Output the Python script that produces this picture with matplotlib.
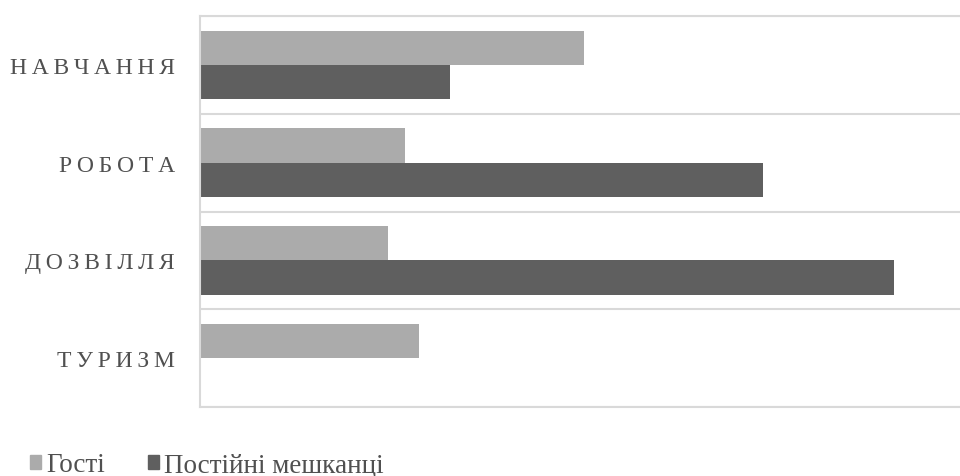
import matplotlib
matplotlib.use("Agg")
import matplotlib.pyplot as plt
from matplotlib.patches import Patch
import numpy as np

# data (no axis scale shown, so values are relative, 0-100)
categories = ["НАВЧАННЯ", "РОБОТА", "ДОЗВІЛЛЯ", "ТУРИЗМ"]
guests = [50.5, 27.0, 24.7, 28.8]
residents = [32.9, 74.1, 91.3, 0.0]
series_names = ["Гості", "Постійні мешканці"]

light = "#ababab"
dark = "#5f5f5f"
grid_c = "#d9d9d9"
text_c = "#505050"

plt.rcParams["font.family"] = ["Liberation Serif", "DejaVu Serif"]

fig = plt.figure(figsize=(9.6, 4.77), dpi=100)
ax = fig.add_axes([200 / 960, 1 - 408 / 477, 1.0, (408 - 17) / 477])

y = np.arange(len(categories))
h = 0.35
ax.barh(y - h / 2, guests, height=h, color=light)
ax.barh(y + h / 2, residents, height=h, color=dark)

ax.set_xlim(0, 100 * 960 / 760)
ax.set_ylim(len(categories) - 0.5, -0.5)

ax.set_yticks(y)
ax.set_yticklabels(["\u2009".join(c) for c in categories], fontsize=17, color=text_c)
ax.tick_params(axis="y", length=0, pad=18)
ax.set_xticks([])

# separators between categories
ax.set_yticks(np.arange(-0.5, len(categories), 1.0), minor=True)
ax.tick_params(axis="y", which="minor", length=0)
ax.grid(axis="y", which="minor", color=grid_c, linewidth=1.5)
ax.set_axisbelow(True)

for s in ["left", "top", "bottom"]:
    ax.spines[s].set_color(grid_c)
    ax.spines[s].set_linewidth(1.5)
ax.spines["right"].set_visible(False)

handles = [Patch(color=light), Patch(color=dark)]
fig.legend(handles, series_names, loc="center left",
           bbox_to_anchor=(0.017, 1 - 466 / 477), ncol=2, frameon=False,
           fontsize=19.5, labelcolor=text_c, handlelength=0.4, handleheight=0.4,
           handletextpad=0.2, columnspacing=1.6, borderpad=0)

fig.savefig("out.png", dpi=100)
